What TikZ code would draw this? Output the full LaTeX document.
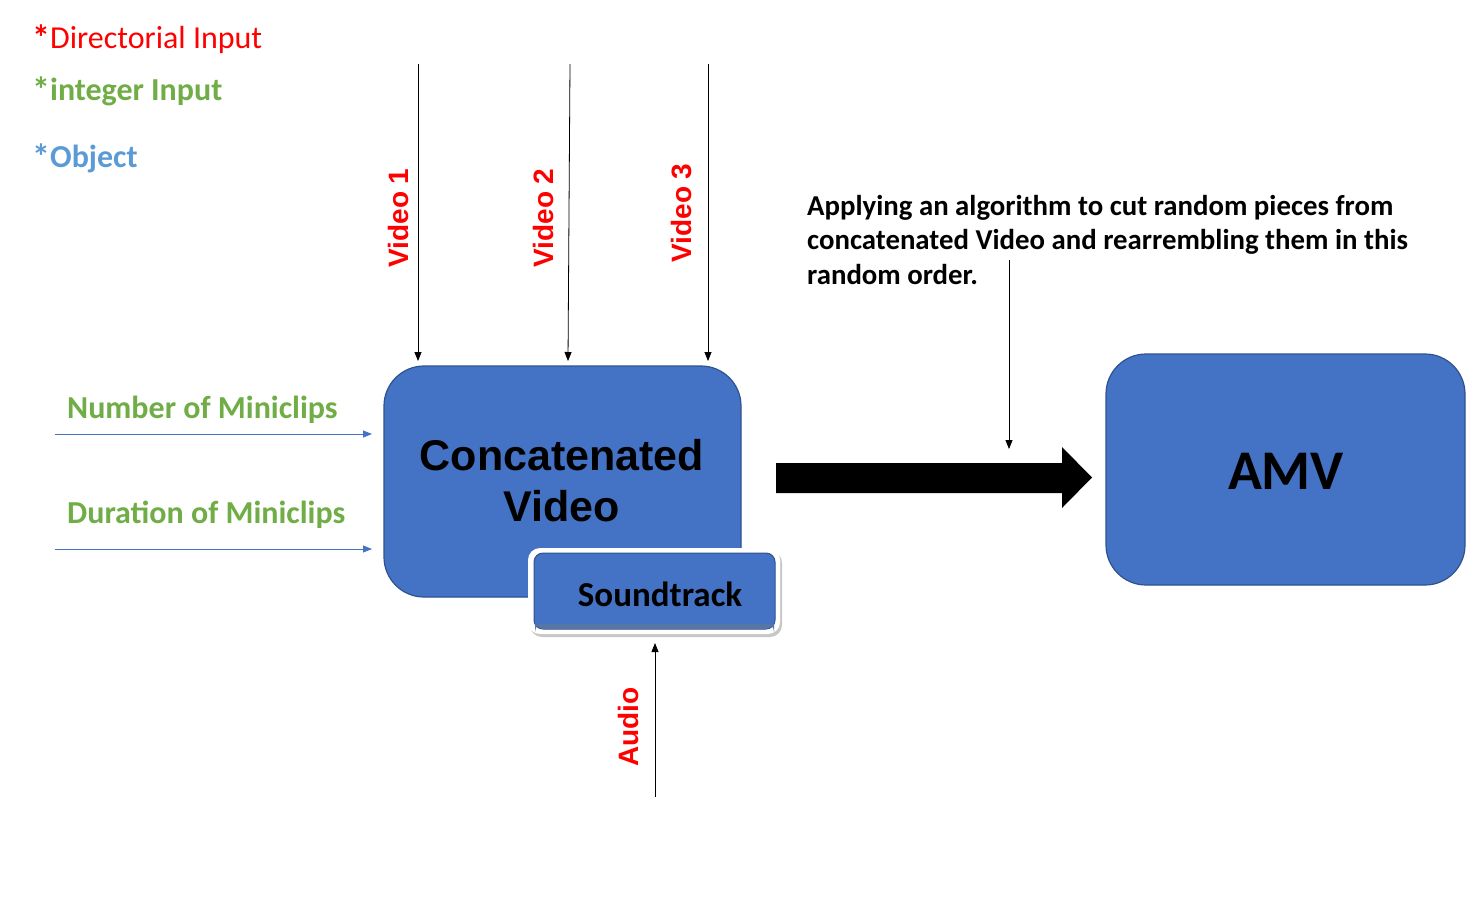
\documentclass[tikz,border=0pt]{standalone}
\usepackage{fontspec}
\setmainfont{Carlito}
\newfontfamily\arialf{Liberation Sans}
\usetikzlibrary{arrows.meta,shadows}
\definecolor{cred}{HTML}{FF0000}
\definecolor{cgreen}{HTML}{70AD47}
\definecolor{cblue}{HTML}{5B9BD5}
\definecolor{boxfill}{HTML}{4472C4}
\definecolor{boxline}{HTML}{2F528F}
\definecolor{linkblue}{HTML}{4472C4}
\newcommand{\legstar}{{\bfseries\fontsize{36}{38}\selectfont\raisebox{-2pt}{*}}}
\tikzset{
  bigbox/.style={draw=boxline, line width=1.2pt, fill=boxfill, rounded corners=40pt},
  legend/.style={anchor=west, inner sep=0pt, font=\fontsize{32}{38}\selectfont},
  rotlabel/.style={rotate=90, inner sep=0pt, text=cred, font=\arialf\bfseries\fontsize{28}{32}\selectfont},
  inarrow/.style={draw=black, line width=0.8pt, -{Triangle[length=9pt,width=7pt]}},
  bluearrow/.style={draw=linkblue, line width=0.8pt, -{Triangle[length=9pt,width=7pt]}},
  param/.style={anchor=west, inner sep=0pt, text=cgreen, font=\bfseries\fontsize{32}{38}\selectfont},
}
\begin{document}
\begin{tikzpicture}[x=1pt,y=-1pt]
\useasboundingbox (0,0) rectangle (1478,911);
% legend
\node[legend, text=cred] (leg1) at (32,39) {\legstar Directorial Input};
\node[legend, text=cgreen, font=\bfseries\fontsize{32}{38}\selectfont] (leg2) at (32,91) {\legstar integer Input};
\node[legend, text=cblue, font=\bfseries\fontsize{32}{38}\selectfont] (leg3) at (32,158) {\legstar Object};
% main boxes
\path[bigbox] (384,366) rectangle (741,597);
\node[inner sep=0pt, align=center, font=\arialf\bfseries\fontsize{43}{51}\selectfont] (concat) at (562,481) {Concatenated\\Video};
\path[bigbox] (1106,354) rectangle (1465,585);
\node[inner sep=0pt, font=\bfseries\fontsize{56}{60}\selectfont] (amv) at (1286,471) {AMV};
% soundtrack
\fill[black!22, rounded corners=12pt] (530,551) rectangle (782,637);
\fill[white, rounded corners=12pt] (528,548) rectangle (780,634);
\path[draw=boxline, line width=1pt, fill=boxfill, rounded corners=9pt] (534,553) rectangle (775,629);
\fill[boxline!80, rounded corners=9pt] (535,623) rectangle (774,629);
\path[fill=boxfill, rounded corners=9pt] (535,554) rectangle (774,624);
\node[inner sep=0pt, font=\bfseries\fontsize{35}{40}\selectfont] (sound) at (660,594) {Soundtrack};
% video inputs
\coordinate (v1s) at (418,64);  \coordinate (v1e) at (418,361);
\coordinate (v2s) at (570,64);  \coordinate (v2e) at (568,361);
\coordinate (v3s) at (708,64);  \coordinate (v3e) at (708,361);
\draw[inarrow] (v1s) -- (v1e);
\draw[inarrow] (v2s) -- (v2e);
\draw[inarrow] (v3s) -- (v3e);
\node[rotlabel] (lv1) at (398,218) {Video 1};
\node[rotlabel] (lv2) at (543,218) {Video 2};
\node[rotlabel] (lv3) at (682,213) {Video 3};
% audio
\coordinate (as) at (655,797); \coordinate (ae) at (655,643);
\draw[inarrow] (as) -- (ae);
\node[rotlabel] (la) at (628,727) {Audio};
% parameters
\node[param] (pnum) at (67,410) {Number of Miniclips};
\node[param] (pdur) at (67,515) {Duration of Miniclips};
\coordinate (n1s) at (55,434); \coordinate (n1e) at (372,434);
\coordinate (d1s) at (55,549); \coordinate (d1e) at (372,549);
\draw[bluearrow] (n1s) -- (n1e);
\draw[bluearrow] (d1s) -- (d1e);
% big arrow
\fill[black] (776,463) -- (1062,463) -- (1062,447) -- (1092,477.5) -- (1062,508) -- (1062,493) -- (776,493) -- cycle;
% algorithm text
\node[anchor=north west, inner sep=0pt, align=left, font=\bfseries\fontsize{28.8}{34.5}\selectfont] (algo) at (807,195) {Applying an algorithm to cut random pieces from\\concatenated Video and rearrembling them in this\\random order.};
\coordinate (als) at (1009,260); \coordinate (ale) at (1009,449);
\draw[inarrow] (als) -- (ale);
\end{tikzpicture}
\end{document}
